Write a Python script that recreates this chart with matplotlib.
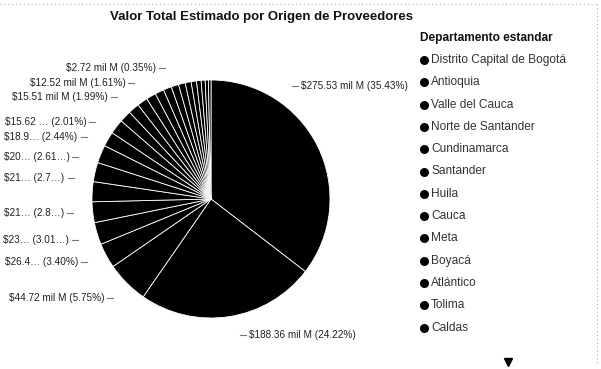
import matplotlib
matplotlib.use("Agg")
import matplotlib.pyplot as plt
import numpy as np

plt.rcParams['font.family'] = ['Liberation Sans', 'DejaVu Sans']

# Valor total estimado por departamento de origen (miles de millones de pesos)
departamentos = [
    "Distrito Capital de Bogotá", "Antioquia", "Valle del Cauca",
    "Norte de Santander", "Cundinamarca", "Santander", "Huila", "Cauca",
    "Meta", "Boyacá", "Atlántico", "Tolima", "Caldas", "Bolívar",
    "Risaralda", "Nariño", "Magdalena", "Cesar", "Córdoba", "Quindío",
    "Casanare", "Sucre", "La Guajira", "Caquetá", "Putumayo",
]
valor_mil_millones = [
    275.53, 188.36, 44.72, 26.45, 23.41, 21.90, 21.12, 20.31,
    18.95, 15.62, 15.51, 12.52, 11.70, 11.10,
    10.30, 9.50, 8.60, 7.90, 7.10, 6.30,
    5.60, 4.90, 4.20, 3.38, 2.72,
]
# Slices that show a data label
con_etiqueta = ["Distrito Capital de Bogotá", "Antioquia", "Valle del Cauca",
                "Norte de Santander", "Cundinamarca", "Santander", "Huila",
                "Cauca", "Meta", "Boyacá", "Atlántico", "Tolima", "Putumayo"]
# Entries visible in the legend before scrolling
en_leyenda = departamentos[:13]

titulo = "Valor Total Estimado por Origen de Proveedores"
titulo_leyenda = "Departamento estandar"

# ---- layout (pixels, measured from the top) ----
W, H = 601, 369
CX, CY, R = 211, 199, 119
fila_etiqueta = {  # vertical row of each data label
    "Distrito Capital de Bogotá": 86, "Antioquia": 335, "Valle del Cauca": 298,
    "Norte de Santander": 262, "Cundinamarca": 240, "Santander": 213,
    "Huila": 178, "Cauca": 157, "Meta": 137, "Boyacá": 122,
    "Atlántico": 97, "Tolima": 83, "Putumayo": 68,
}
LEG_X, LEG_TOP, LEG_STEP = 424, 60, 22.3

fig = plt.figure(figsize=(W / 100, H / 100), dpi=100)
ax = fig.add_axes([0, 0, 1, 1])

wedges, _ = ax.pie(
    valor_mil_millones, startangle=90, counterclock=False,
    center=(CX, H - CY), radius=R, colors=["#000000"] * len(valor_mil_millones),
    wedgeprops=dict(edgecolor="white", linewidth=0.6),
)
ax.set_xlim(0, W)
ax.set_ylim(0, H)
ax.set_aspect("equal")
ax.axis("off")

fig.canvas.draw()
renderer = fig.canvas.get_renderer()
total = sum(valor_mil_millones)


def ancho(t):
    return t.get_window_extent(renderer).width


for nombre, w in zip(departamentos, wedges):
    if nombre not in con_etiqueta:
        continue
    v = valor_mil_millones[departamentos.index(nombre)]
    p = 100 * v / total
    mid = np.deg2rad((w.theta1 + w.theta2) / 2)
    lado = 1 if np.cos(mid) > 0 else -1
    y = H - fila_etiqueta[nombre]
    dy = y - (H - CY)
    rl = R + 20
    x_edge = CX + lado * np.sqrt(max(rl ** 2 - dy ** 2, 0))
    ax.plot([x_edge, x_edge + lado * 6], [y, y], color="#777777", lw=0.8,
            clip_on=False)
    a, b = f"${v:.2f} mil M", f"{p:.2f}%"
    x_txt = x_edge + lado * 9
    t = ax.text(x_txt, y, f"{a} ({b})", ha="left" if lado > 0 else "right",
                va="center", fontsize=7.2, color="#222222")
    if lado < 0:
        disponible = x_txt - 3
        while ancho(t) > disponible and (len(a) > 3 or len(b) > 3):
            ca, cb = a.rstrip("…"), b.rstrip("…")
            if len(ca) >= len(cb):
                a = ca[:-1] + "…"
            else:
                b = cb[:-1] + "…"
            t.set_text(f"{a} ({b})")

# title
fig.text(261 / W, 1 - 17 / H, titulo, ha="center", va="center",
         fontsize=9.5, fontweight="bold", color="#111111")

# legend
ax.text(LEG_X - 4, H - 38, titulo_leyenda, ha="left", va="center",
        fontsize=8.6, fontweight="bold", color="#111111")
for i, nombre in enumerate(en_leyenda):
    y = H - (LEG_TOP + i * LEG_STEP)
    ax.scatter([LEG_X], [y], s=30, color="#000000", clip_on=False, zorder=3)
    ax.text(LEG_X + 7, y, nombre, ha="left", va="center", fontsize=8.6,
            color="#333333")
ax.plot([508], [H - 362], marker="v", ms=5.5, color="#000000", clip_on=False)

# container border
ax.plot([0, W - 4], [H - 4, H - 4], color="#999999", lw=0.7, ls=(0, (1, 3)),
        clip_on=False)
ax.plot([W - 4, W - 4], [H - 4, 4], color="#999999", lw=0.7, ls=(0, (1, 3)),
        clip_on=False)

fig.savefig("out.png", dpi=100)
